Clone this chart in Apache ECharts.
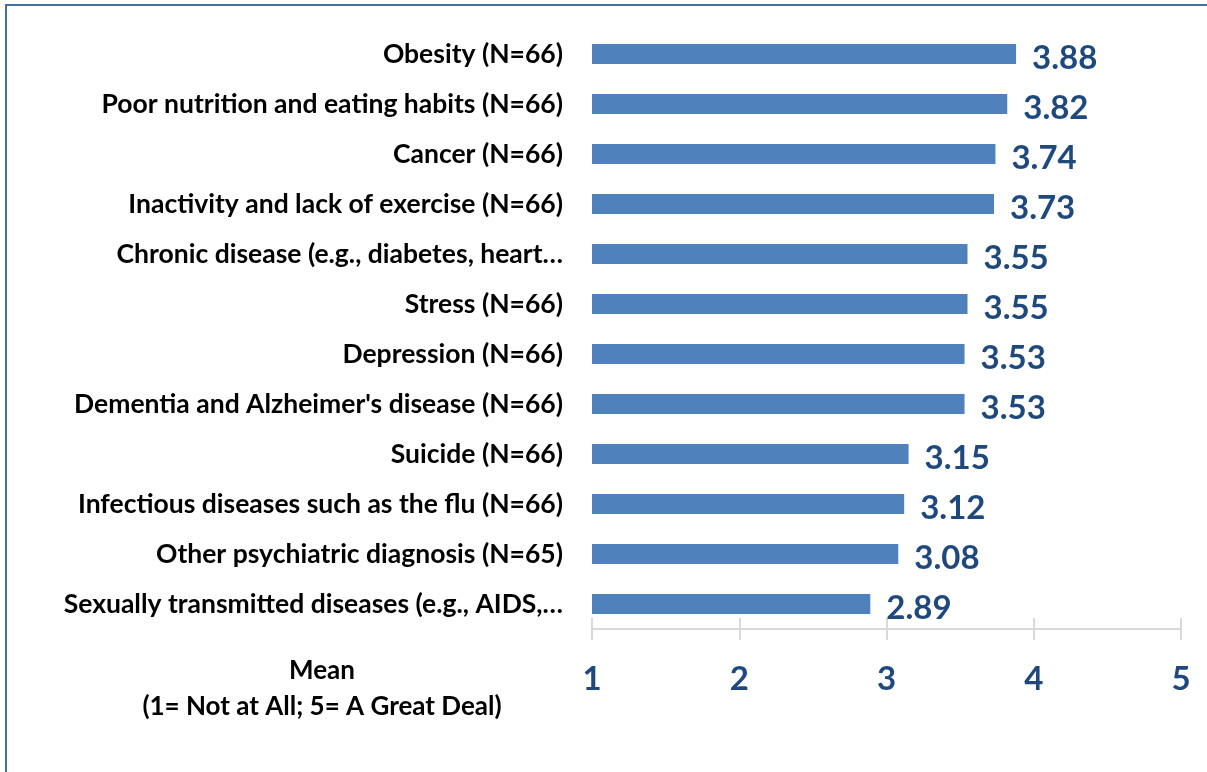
<!DOCTYPE html>
<html>
<head>
<meta charset="utf-8">
<script src="https://cdn.jsdelivr.net/npm/echarts@6/dist/echarts.min.js"></script>
<style>
  html, body { margin: 0; padding: 0; background: #fff; }
  #chart { width: 1207px; height: 772px; }
</style>
</head>
<body>
<div id="chart"></div>
<script>
// categories top to bottom, as in the picture
var categories = [
    'Obesity (N=66)',
    'Poor nutrition and eating habits (N=66)',
    'Cancer (N=66)',
    'Inactivity and lack of exercise (N=66)',
    'Chronic disease (e.g., diabetes, heart\u2026',
    'Stress (N=66)',
    'Depression (N=66)',
    "Dementia and Alzheimer's disease (N=66)",
    'Suicide (N=66)',
    'Infectious diseases such as the flu (N=66)',
    'Other psychiatric diagnosis (N=65)',
    'Sexually transmitted diseases (e.g., AIDS,\u2026'
];
var means = [3.88, 3.82, 3.74, 3.73, 3.55, 3.55, 3.53, 3.53, 3.15, 3.12, 3.08, 2.89];
var axisTitle = ['Mean', '(1= Not at All; 5= A Great Deal)'];

var chart = echarts.init(document.getElementById('chart'));

var blue = '#1f497d';
var font = 'Lato, Carlito, Calibri, sans-serif';

var option = {
    animation: false,
    grid: { left: 592, right: 26, top: 29, height: 600 },
    xAxis: [
        {
            type: 'value', min: 1, max: 5, interval: 1,
            axisLine: { show: true, lineStyle: { color: '#d9d9d9', width: 2 } },
            axisTick: { show: true, length: 11, lineStyle: { color: '#d9d9d9', width: 2 } },
            axisLabel: { margin: 34, color: blue, fontFamily: font, fontWeight: 'bold', fontSize: 33 },
            splitLine: { show: false }
        },
        {
            // second axis only to draw the upward half of the cross ticks
            type: 'value', min: 1, max: 5, interval: 1, position: 'bottom',
            axisLine: { show: false },
            axisTick: { show: true, inside: true, length: 11, lineStyle: { color: '#d9d9d9', width: 2 } },
            axisLabel: { show: false },
            splitLine: { show: false }
        }
    ],
    yAxis: {
        type: 'category',
        inverse: true,
        data: categories,
        axisLine: { show: false },
        axisTick: { show: false },
        axisLabel: { margin: 29, color: '#000', fontFamily: font, fontWeight: 'bold', fontSize: 26.5 }
    },
    series: [{
        type: 'bar',
        data: means,
        barWidth: 20,
        itemStyle: { color: '#4f81bd' },
        label: {
            show: true,
            position: 'right',
            distance: 16,
            offset: [0, 4],
            color: blue,
            fontFamily: font,
            fontWeight: 'bold',
            fontSize: 33,
            formatter: function (p) { return p.value.toFixed(2); }
        }
    }],
    graphic: [
        {
            type: 'rect',
            shape: { x: 6, y: 5, width: 1400, height: 1000 },
            style: { fill: 'none', stroke: '#41719c', lineWidth: 2 },
            silent: true
        },
        {
            type: 'text', x: 322, y: 671,
            style: { text: axisTitle[0], align: 'center', verticalAlign: 'middle', font: 'bold 26px ' + font, fill: '#000' }
        },
        {
            type: 'text', x: 322, y: 707,
            style: { text: axisTitle[1], align: 'center', verticalAlign: 'middle', font: 'bold 26px ' + font, fill: '#000' }
        }
    ]
};

chart.setOption(option);
</script>
</body>
</html>
